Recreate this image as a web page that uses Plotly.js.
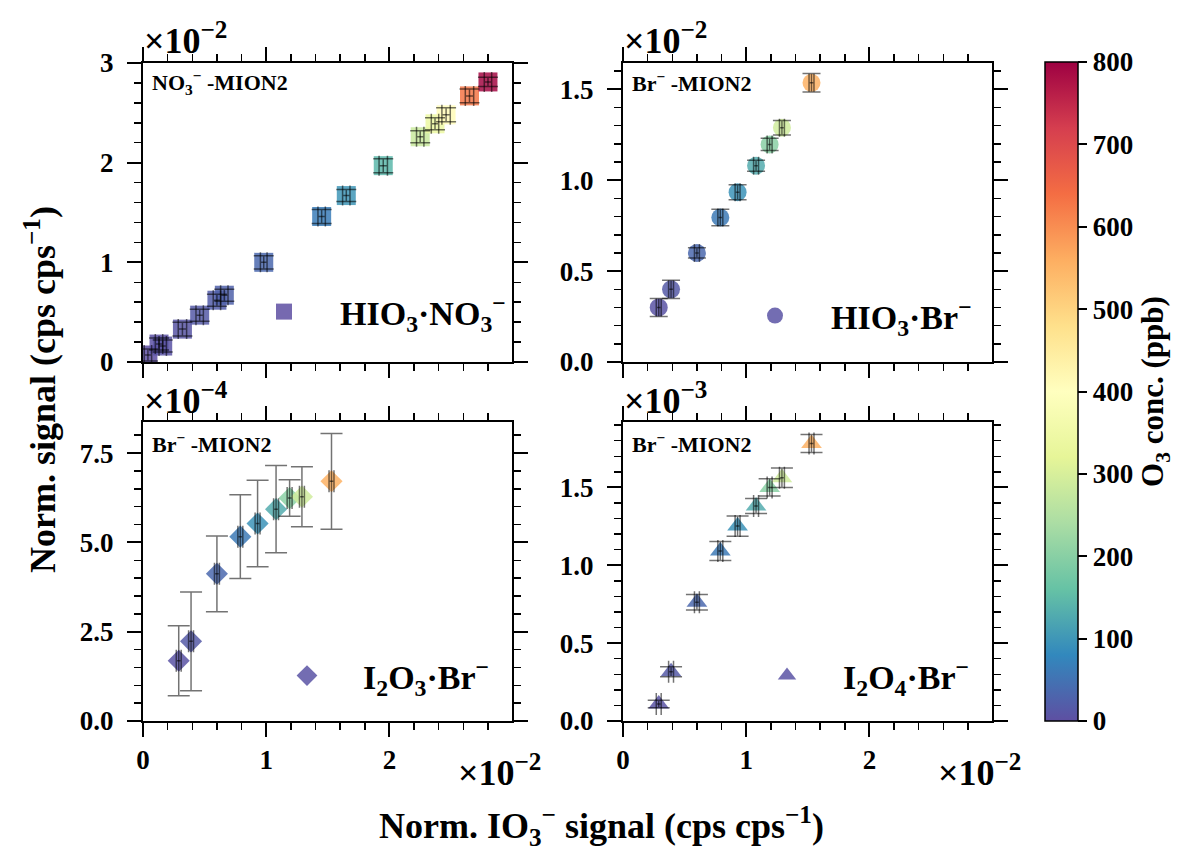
<!DOCTYPE html>
<html><head><meta charset="utf-8">
<script src="https://cdn.plot.ly/plotly-3.0.1.min.js"></script>
<style>html,body{margin:0;padding:0;background:#fff}#chart{width:1184px;height:853px}</style>
</head><body><div id="chart"></div><script>
// ---- Data (display units: x in 1e-2 cps/cps; y in the panel's multiplier) ----
// Panel a: HIO3·NO3- (NO3- -MION2), y ×1e-2
const no3_x  = [0.04, 0.13, 0.16, 0.32, 0.46, 0.60, 0.66, 0.98, 1.45, 1.65, 1.95, 2.25, 2.37, 2.46, 2.65, 2.80];
const no3_y  = [0.07, 0.18, 0.16, 0.33, 0.47, 0.62, 0.67, 1.00, 1.46, 1.67, 1.97, 2.26, 2.39, 2.48, 2.67, 2.81];
const no3_o3 = [0, 3, 6, 10, 15, 20, 25, 35, 65, 100, 145, 280, 340, 410, 630, 790];
const no3_ex = [0.03, 0.03, 0.03, 0.034, 0.03, 0.03, 0.03, 0.027, 0.03, 0.03, 0.034, 0.03, 0.03, 0.034, 0.034, 0.03];
const no3_ey = [0.06, 0.06, 0.06, 0.07, 0.06, 0.06, 0.06, 0.067, 0.07, 0.06, 0.07, 0.06, 0.06, 0.07, 0.07, 0.047];

// Br- -MION2 series share the same IO3- signal and O3 levels
const br_x  = [0.29, 0.39, 0.60, 0.79, 0.93, 1.08, 1.19, 1.29, 1.53];
const br_o3 = [5, 15, 35, 60, 95, 130, 200, 290, 555];
const br_ex = [0.02, 0.02, 0.02, 0.02, 0.02, 0.02, 0.02, 0.02, 0.02];

// Panel b: HIO3·Br-, y ×1e-2
const hio3br_y  = [0.30, 0.40, 0.60, 0.795, 0.934, 1.08, 1.197, 1.289, 1.536];
const hio3br_ey = [0.05, 0.05, 0.028, 0.046, 0.041, 0.03, 0.034, 0.04, 0.051];

// Panel c: I2O3·Br-, y ×1e-4
const i2o3br_y  = [1.685, 2.23, 4.12, 5.16, 5.53, 5.93, 6.24, 6.28, 6.71];
const i2o3br_ey = [0.98, 1.38, 1.06, 1.17, 1.21, 1.22, 0.51, 0.84, 1.34];

// Panel d: I2O4·Br-, y ×1e-3
const i2o4br_y  = [0.109, 0.316, 0.762, 1.091, 1.252, 1.380, 1.50, 1.562, 1.782];
const i2o4br_ey = [0.024, 0.032, 0.05, 0.061, 0.065, 0.048, 0.055, 0.063, 0.058];

// Tick / label text
const cbTicks = [0, 100, 200, 300, 400, 500, 600, 700, 800];
const names = ['HIO<sub>3</sub>·NO<sub>3</sub><sup>−</sup>', 'HIO<sub>3</sub>·Br<sup>−</sup>',
               'I<sub>2</sub>O<sub>3</sub>·Br<sup>−</sup>', 'I<sub>2</sub>O<sub>4</sub>·Br<sup>−</sup>'];
const panelLabels = ['NO<sub>3</sub><sup>−</sup> -MION2', 'Br<sup>−</sup> -MION2', 'Br<sup>−</sup> -MION2', 'Br<sup>−</sup> -MION2'];
const yExp = ['−2', '−2', '−4', '−3'];

// ---- Styling ----
const FONT = 'Liberation Serif';
const W = 1184, H = 853;
const SPECTRAL_R = [[0,'#5e4fa2'],[0.1,'#3288bd'],[0.2,'#66c2a5'],[0.3,'#abdda4'],[0.4,'#e6f598'],
  [0.5,'#ffffbf'],[0.6,'#fee08b'],[0.7,'#fdae61'],[0.8,'#f46d43'],[0.9,'#d53e4f'],[1,'#9e0142']];
const ERRC = 'rgba(0,0,0,0.55)';

const px = v => v / W, py = v => 1 - v / H;
const xL = [px(143), px(512)], xR = [px(623), px(992)];
const yT = [py(362), py(63)], yB = [py(721), py(422)];

function markerTrace(x, y, o3, sym, size, ax, i, withScale) {
  const m = {symbol: sym, size: size, color: o3, colorscale: SPECTRAL_R, cmin: 0, cmax: 800,
             opacity: 0.85, line: {width: 0}, showscale: !!withScale};
  if (withScale) {
    m.colorbar = {x: px(1045), xanchor: 'left', y: py(391.5), yanchor: 'middle',
      len: 659, lenmode: 'pixels', thickness: 33, thicknessmode: 'pixels', xpad: 0, ypad: 0,
      outlinewidth: 1.5, outlinecolor: 'black', ticks: 'outside', ticklen: 9, tickwidth: 2,
      tickcolor: 'black', tickvals: cbTicks,
      tickfont: {family: FONT, size: 27, weight: 'bold', color: 'black'},
      title: {text: 'O<sub>3</sub> conc. (ppb)', side: 'right',
              font: {family: FONT, size: 31, weight: 'bold', color: 'black'}}};
  }
  return {type: 'scatter', mode: 'markers', x: x, y: y, xaxis: 'x' + ax, yaxis: 'y' + ax,
    marker: m, name: names[i], legend: i === 0 ? 'legend' : 'legend' + (i + 1), showlegend: true,
    hoverinfo: 'x+y'};
}
function errTrace(x, y, ex, ey, ax, w) {
  return {type: 'scatter', mode: 'markers', x: x, y: y, xaxis: 'x' + ax, yaxis: 'y' + ax,
    marker: {size: 2, opacity: 0}, showlegend: false, hoverinfo: 'skip',
    error_x: {type: 'data', array: ex, visible: true, color: ERRC, thickness: 1.5, width: w},
    error_y: {type: 'data', array: ey, visible: true, color: ERRC, thickness: 1.5, width: w}};
}

const data = [
  markerTrace(no3_x, no3_y, no3_o3, 'square', 19, '', 0, true),
  errTrace(no3_x, no3_y, no3_ex, no3_ey, '', 10),
  markerTrace(br_x, hio3br_y, br_o3, 'circle', 18, '2', 1, false),
  errTrace(br_x, hio3br_y, br_ex, hio3br_ey, '2', 9),
  markerTrace(br_x, i2o3br_y, br_o3, 'diamond', 17, '3', 2, false),
  errTrace(br_x, i2o3br_y, br_ex, i2o3br_ey, '3', 11),
  markerTrace(br_x, i2o4br_y, br_o3, 'triangle-up', 18, '4', 3, false),
  errTrace(br_x, i2o4br_y, br_ex, i2o4br_ey, '4', 11),
];

const tickfont = {family: FONT, size: 27, weight: 'bold', color: 'black'};
function axis(extra, minorD) {
  return Object.assign({showline: true, linecolor: 'black', linewidth: 2, mirror: 'ticks',
    ticks: 'outside', ticklen: 14, tickwidth: 2, tickcolor: 'black', showgrid: false, zeroline: false,
    tickfont: tickfont, tick0: 0,
    minor: {ticks: 'outside', ticklen: 7, tickwidth: 1.5, tickcolor: 'black', dtick: minorD, tick0: 0, showgrid: false}},
    extra);
}
const xr = [0, 2.995];
const layout = {
  width: W, height: H, margin: {l: 0, r: 0, t: 0, b: 0},
  paper_bgcolor: 'white', plot_bgcolor: 'white', showlegend: true,
  font: {family: FONT, color: 'black', weight: 'bold'},
  xaxis:  axis({domain: xL, range: xr, dtick: 1, anchor: 'y',  showticklabels: false}, 0.2),
  xaxis2: axis({domain: xR, range: xr, dtick: 1, anchor: 'y2', showticklabels: false}, 0.2),
  xaxis3: axis({domain: xL, range: xr, dtick: 1, anchor: 'y3'}, 0.2),
  xaxis4: axis({domain: xR, range: xr, dtick: 1, anchor: 'y4'}, 0.2),
  yaxis:  axis({domain: yT, range: [0, 3.0], dtick: 1, anchor: 'x', ticklabelstandoff: 8}, 0.2),
  yaxis2: axis({domain: yT, range: [0, 1.645], dtick: 0.5, tickformat: '.1f', anchor: 'x2', ticklabelstandoff: 8}, 0.1),
  yaxis3: axis({domain: yB, range: [0, 8.37], dtick: 2.5, tickformat: '.1f', anchor: 'x3', ticklabelstandoff: 8}, 0.5),
  yaxis4: axis({domain: yB, range: [0, 1.92], dtick: 0.5, tickformat: '.1f', anchor: 'x4', ticklabelstandoff: 8}, 0.1),
  annotations: [],
};
const legPos = [[284, 312], [775, 316], [307, 676], [787, 676]];
legPos.forEach((p, i) => {
  layout[i === 0 ? 'legend' : 'legend' + (i + 1)] = {
    x: px(p[0] - 56), y: py(p[1]), xanchor: 'left', yanchor: 'middle', bgcolor: 'rgba(0,0,0,0)',
    borderwidth: 0, itemwidth: 102, itemsizing: 'trace',
    font: {family: FONT, size: 34, weight: 'bold', color: 'black'}};
});
const ann = (text, x, y, size, opts) => Object.assign({text: text, x: px(x), y: py(y), xref: 'paper', yref: 'paper',
  showarrow: false, xanchor: 'left', yanchor: 'middle', font: {family: FONT, size: size, weight: 'bold', color: 'black'}}, opts || {});
const panelPos = [[150, 82], [630, 82], [150, 443], [630, 443]];
panelPos.forEach((p, i) => layout.annotations.push(ann(panelLabels[i], p[0], p[1], 22)));
const expPos = [[142, 38], [622, 38], [142, 398], [622, 398]];
expPos.forEach((p, i) => layout.annotations.push(ann('×10<sup>' + yExp[i] + '</sup>', p[0], p[1], 36)));
layout.annotations.push(ann('×10<sup>−2</sup>', 456, 770, 36));
layout.annotations.push(ann('×10<sup>−2</sup>', 936, 770, 36));
layout.annotations.push(ann('Norm. signal (cps cps<sup>−1</sup>)', 40, 390, 36, {xanchor: 'center', textangle: -90}));
layout.annotations.push(ann('Norm. IO<sub>3</sub><sup>−</sup> signal (cps cps<sup>−1</sup>)', 601, 826, 36, {xanchor: 'center'}));

Plotly.newPlot('chart', data, layout, {displayModeBar: false, staticPlot: true});
</script></body></html>
